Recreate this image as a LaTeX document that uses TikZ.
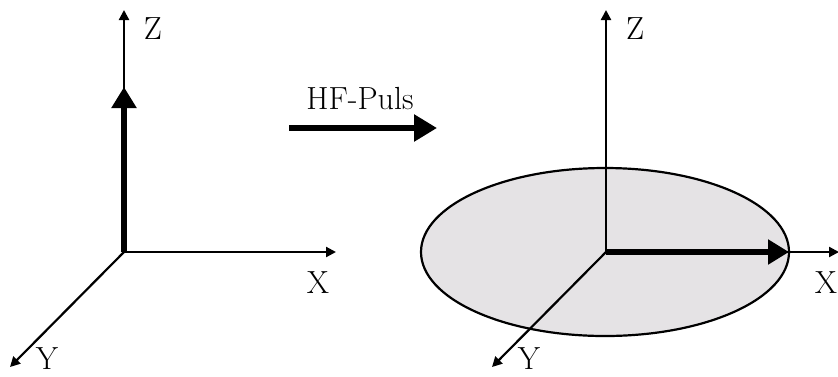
\documentclass[tikz,border=0pt]{standalone}
\usepackage{fontspec}
\usepackage{xcolor}
\usepackage{tikz}
\usetikzlibrary{arrows.meta,positioning,calc}
\definecolor{diskgray}{RGB}{229,227,229}

\begin{document}
\begin{tikzpicture}[
  x=0.5pt, y=-0.5pt,
  axis/.style={line width=1.1pt, -{Triangle[length=5pt, width=5pt]}},
  vec/.style={line width=2.6pt, -{Triangle[length=10.5pt, width=12pt]}},
  lbl/.style={anchor=base, inner sep=0pt, font=\fontsize{16}{19}\selectfont},
]
\useasboundingbox (0,0) rectangle (838,376);

% before the pulse
\coordinate (o1) at (124,252);
\coordinate (z1) at (124,10);
\coordinate (x1) at (336,252);
\coordinate (y1) at (10,367);
\coordinate (m1) at (124,87);
\draw[axis] (o1) -- (z1);
\draw[axis] (o1) -- (x1);
\draw[axis] (o1) -- (y1);
\draw[vec]  (o1) -- (m1);
\node[lbl] (lz1) at (153,39)  {Z};
\node[lbl] (lx1) at (318,293) {X};
\node[lbl] (ly1) at (47,369)  {Y};

% pulse
\node[anchor=base, inner sep=0pt, font=\fontsize{16}{19}\selectfont] (hf) at (360,109) {HF-Puls};
\coordinate (p1) at (289,128);
\coordinate (p2) at (437,128);
\draw[line width=2.8pt, -{Triangle[length=11.5pt, width=13pt]}] (p1) -- (p2);

% after the pulse
\coordinate (o2) at (606,252);
\coordinate (z2) at (606,10);
\coordinate (x2) at (839,252);
\coordinate (y2) at (492,367);
\coordinate (m2) at (789,252);
\draw[line width=1.1pt, fill=diskgray] (605,252) ellipse [x radius=92pt, y radius=42pt];
\draw[axis] (o2) -- (z2);
\draw[axis] (o2) -- (x2);
\draw[axis] (o2) -- (y2);
\draw[vec]  (o2) -- (m2);
\node[lbl] (lz2) at (635,39)  {Z};
\node[lbl] (lx2) at (826,293) {X};
\node[lbl] (ly2) at (529,369) {Y};
\end{tikzpicture}
\end{document}
